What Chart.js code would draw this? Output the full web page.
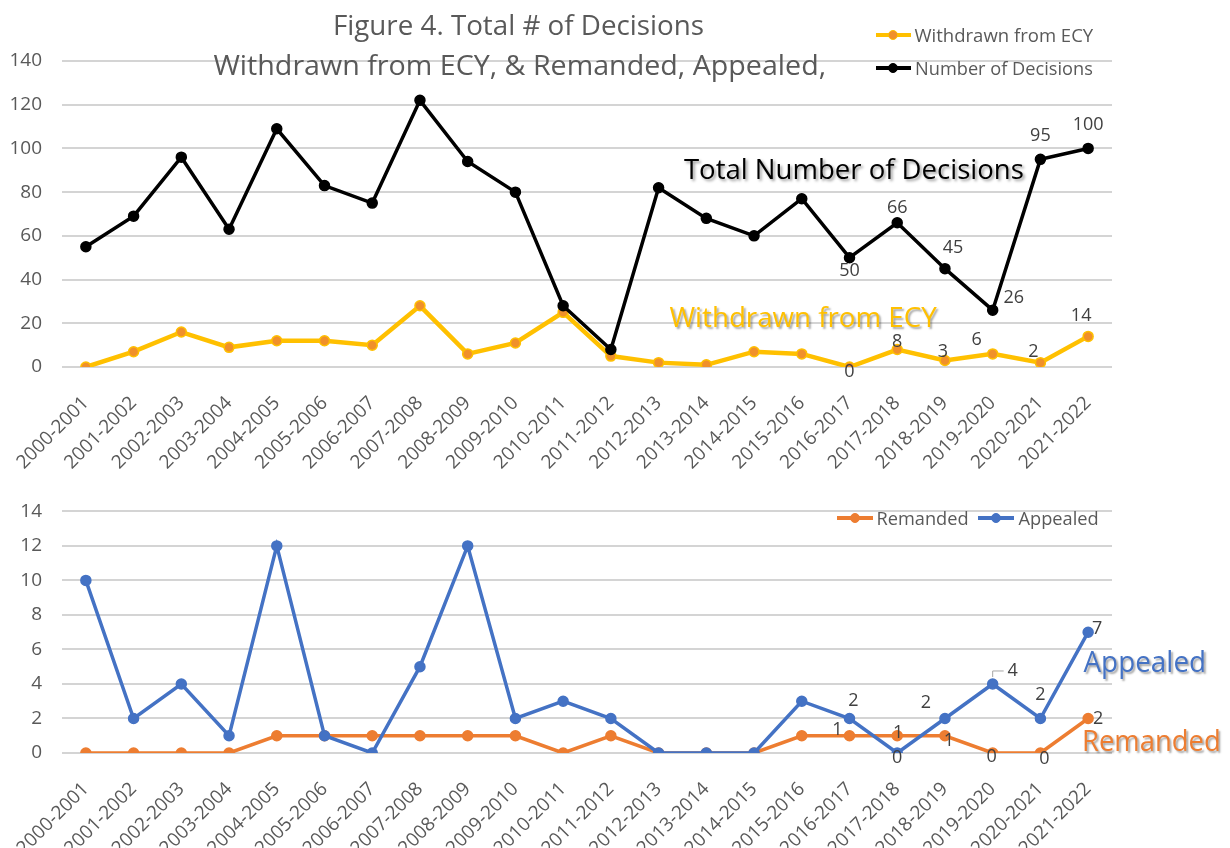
<!DOCTYPE html>
<html>
<head>
<meta charset="utf-8">
<script src="https://cdn.jsdelivr.net/npm/chart.js@4.4.0/dist/chart.umd.min.js"></script>
<style>
body { margin: 0; background: #fff; }
#wrap { position: relative; width: 1230px; height: 848px; overflow: hidden; font-family: 'Open Sans', sans-serif; }
#topChart { position: absolute; left: 0; top: 0; }
#bottomChart { position: absolute; left: 0; top: 480px; }
.ov { position: absolute; white-space: nowrap; line-height: 1; transform-origin: center center; }
.key { position: absolute; }
</style>
</head>
<body>
<div id="wrap">
    <canvas id="topChart" width="1230" height="480"></canvas>
    <canvas id="bottomChart" width="1230" height="368"></canvas>
</div>
<script>
// values
var seasons = ['2000-2001', '2001-2002', '2002-2003', '2003-2004', '2004-2005', '2005-2006',
    '2006-2007', '2007-2008', '2008-2009', '2009-2010', '2010-2011', '2011-2012', '2012-2013',
    '2013-2014', '2014-2015', '2015-2016', '2016-2017', '2017-2018', '2018-2019', '2019-2020',
    '2020-2021', '2021-2022'];
var decisions = [55, 69, 96, 63, 109, 83, 75, 122, 94, 80, 28, 8, 82, 68, 60, 77, 50, 66, 45, 26, 95, 100];
var withdrawn = [0, 7, 16, 9, 12, 12, 10, 28, 6, 11, 25, 5, 2, 1, 7, 6, 0, 8, 3, 6, 2, 14];
var appealed = [10, 2, 4, 1, 12, 1, 0, 5, 12, 2, 3, 2, 0, 0, 0, 3, 2, 0, 2, 4, 2, 7];
var remanded = [0, 0, 0, 0, 1, 1, 1, 1, 1, 1, 0, 1, 0, 0, 0, 1, 1, 1, 1, 0, 0, 2];
var topAxis = { max: 140, step: 20 };
var bottomAxis = { max: 14, step: 2 };

// which points carry a value label, and where the label sits
var topLabels = [
    { ds: 0, i: 16, dx: 0, dy: 13 }, { ds: 0, i: 17, dx: 0, dy: -15 },
    { ds: 0, i: 18, dx: 8, dy: -21 }, { ds: 0, i: 19, dx: 21, dy: -12 },
    { ds: 0, i: 20, dx: 0, dy: -23 }, { ds: 0, i: 21, dx: 0, dy: -24 },
    { ds: 1, i: 16, dx: 0, dy: 5 }, { ds: 1, i: 17, dx: 0, dy: -8 },
    { ds: 1, i: 18, dx: -2, dy: -9 }, { ds: 1, i: 19, dx: -16, dy: -14 },
    { ds: 1, i: 20, dx: -7, dy: -11 }, { ds: 1, i: 21, dx: -7, dy: -21 }
];
var bottomLabels = [
    { ds: 0, i: 16, dx: 4, dy: -18 }, { ds: 0, i: 17, dx: 0, dy: 5 },
    { ds: 0, i: 18, dx: -19, dy: -16 }, { ds: 0, i: 19, dx: 20, dy: -13, leader: true },
    { ds: 0, i: 20, dx: 0, dy: -24 }, { ds: 0, i: 21, dx: 9, dy: -3 },
    { ds: 1, i: 16, dx: -12, dy: -6 }, { ds: 1, i: 17, dx: 1, dy: -3 },
    { ds: 1, i: 18, dx: 4, dy: 5 }, { ds: 1, i: 19, dx: -1, dy: 4 },
    { ds: 1, i: 20, dx: 4, dy: 6 }, { ds: 1, i: 21, dx: 10, dy: 0 }
];

Chart.defaults.font.family = "'Open Sans', sans-serif";
Chart.defaults.color = '#595959';

var pointLabels = {
    id: 'pointLabels',
    afterDatasetsDraw: function (chart, args, opts) {
        var ctx = chart.ctx;
        ctx.save();
        ctx.font = '18px "Open Sans"';
        ctx.fillStyle = '#404040';
        ctx.textAlign = 'center';
        ctx.textBaseline = 'middle';
        for (let it of (opts.items || [])) {
            var pt = chart.getDatasetMeta(it.ds).data[it.i];
            var v = chart.data.datasets[it.ds].data[it.i];
            if (it.leader) {
                ctx.strokeStyle = '#A6A6A6';
                ctx.lineWidth = 1;
                ctx.beginPath();
                ctx.moveTo(pt.x, pt.y - 7);
                ctx.lineTo(pt.x, pt.y - 13);
                ctx.lineTo(pt.x + 11, pt.y - 13);
                ctx.stroke();
            }
            ctx.fillText(String(v), pt.x + it.dx, pt.y + it.dy);
        }
        ctx.restore();
    }
};

function axes(ax, xHeight) {
    return {
        x: {
            offset: true,
            grid: { display: false },
            border: { display: false },
            ticks: { minRotation: 45, maxRotation: 45, autoSkip: false, padding: 17, font: { size: 19 }, color: '#595959' },
            afterFit: function (s) { s.height = xHeight; }
        },
        y: {
            min: 0,
            max: ax.max,
            grid: { color: '#D4D4D4', lineWidth: 2, drawTicks: false },
            border: { display: false },
            ticks: { stepSize: ax.step, padding: 20, font: { size: 19 }, color: '#595959' },
            afterFit: function (s) { s.width = 62; }
        }
    };
}

function lineSet(label, data, color, width, dotFill, dotBorder) {
    return {
        label: label,
        data: data,
        borderColor: color,
        borderWidth: width,
        pointRadius: 5,
        pointBackgroundColor: dotFill,
        pointBorderColor: dotBorder,
        pointBorderWidth: 1.5,
        tension: 0
    };
}

var topChart = new Chart(document.getElementById('topChart'), {
    type: 'line',
    data: {
        labels: seasons,
        datasets: [
            lineSet('Number of Decisions', decisions, '#000000', 3.5, '#000000', '#000000'),
            lineSet('Withdrawn from ECY', withdrawn, '#FFC000', 4.5, '#F0902A', '#FFC000')
        ]
    },
    options: {
        responsive: false,
        animation: false,
        layout: { padding: { top: 61, right: 118, left: 0, bottom: 0 } },
        plugins: { legend: { display: false }, tooltip: { enabled: false }, pointLabels: { items: topLabels } },
        scales: axes(topAxis, 113)
    },
    plugins: [pointLabels]
});

var bottomChart = new Chart(document.getElementById('bottomChart'), {
    type: 'line',
    data: {
        labels: seasons,
        datasets: [
            lineSet('Appealed', appealed, '#4472C4', 3.5, '#4472C4', '#4472C4'),
            lineSet('Remanded', remanded, '#ED7D31', 3.5, '#ED7D31', '#ED7D31')
        ]
    },
    options: {
        responsive: false,
        animation: false,
        layout: { padding: { top: 19, right: 118, left: 0, bottom: 0 } },
        plugins: { legend: { display: false }, tooltip: { enabled: false }, pointLabels: { items: bottomLabels } },
        scales: axes(bottomAxis, 95)
    },
    plugins: [pointLabels]
});

// text on top of the charts
var wrap = document.getElementById('wrap');

function addText(txt, cx, cy, w, size, color, weight, shadow) {
    var d = document.createElement('div');
    d.className = 'ov';
    d.textContent = txt;
    d.style.fontSize = size + 'px';
    d.style.color = color;
    d.style.fontWeight = weight || 400;
    if (shadow) d.style.textShadow = shadow;
    wrap.appendChild(d);
    var mw = d.offsetWidth, mh = d.offsetHeight;
    d.style.left = (cx - mw / 2) + 'px';
    d.style.top = (cy - mh / 2) + 'px';
    d.style.transform = 'scaleX(' + (w / mw).toFixed(3) + ')';
}

function addKey(x1, x2, y, color, width) {
    var l = document.createElement('div');
    l.className = 'key';
    l.style.left = x1 + 'px';
    l.style.top = (y - width / 2) + 'px';
    l.style.width = (x2 - x1) + 'px';
    l.style.height = width + 'px';
    l.style.background = color;
    wrap.appendChild(l);
}

function addDot(cx, cy, r, fill, border) {
    var d = document.createElement('div');
    d.className = 'key';
    d.style.left = (cx - r) + 'px';
    d.style.top = (cy - r) + 'px';
    d.style.width = (2 * r) + 'px';
    d.style.height = (2 * r) + 'px';
    d.style.borderRadius = '50%';
    d.style.boxSizing = 'border-box';
    d.style.background = fill;
    d.style.border = '1.5px solid ' + border;
    wrap.appendChild(d);
}

addText('Figure 4. Total # of Decisions', 518, 24, 371, 27, '#595959');
addText('Withdrawn from ECY, & Remanded, Appealed,', 519, 64, 612, 27, '#595959');

// top legend
addKey(876, 911, 35, '#FFC000', 4.5);
addDot(893, 35, 5, '#F0902A', '#FFC000');
addText('Withdrawn from ECY', 1004, 35, 179, 18, '#595959');
addKey(876, 911, 68, '#000000', 3.5);
addDot(893, 68, 5, '#000000', '#000000');
addText('Number of Decisions', 1004, 68, 178, 18, '#595959');

// bottom legend
addKey(837, 873, 518, '#ED7D31', 3.5);
addDot(855, 518, 5, '#ED7D31', '#ED7D31');
addText('Remanded', 922, 518, 92, 18, '#595959');
addKey(978, 1014, 518, '#4472C4', 3.5);
addDot(996, 518, 5, '#4472C4', '#4472C4');
addText('Appealed', 1058, 518, 80, 18, '#595959');

// series callouts
addText('Total Number of Decisions', 854, 168, 340, 28, '#000000', 400, '2px 2px 3px rgba(0,0,0,0.4)');
addText('Withdrawn from ECY', 803, 316, 267, 28, '#FFC000', 400, '2px 2px 2px rgba(0,0,0,0.35)');
addText('Appealed', 1145, 660, 123, 29, '#4472C4', 400, '2px 2px 2px rgba(0,0,0,0.35)');
addText('Remanded', 1151, 739, 139, 29, '#ED7D31', 400, '2px 2px 2px rgba(0,0,0,0.35)');
</script>
</body>
</html>
